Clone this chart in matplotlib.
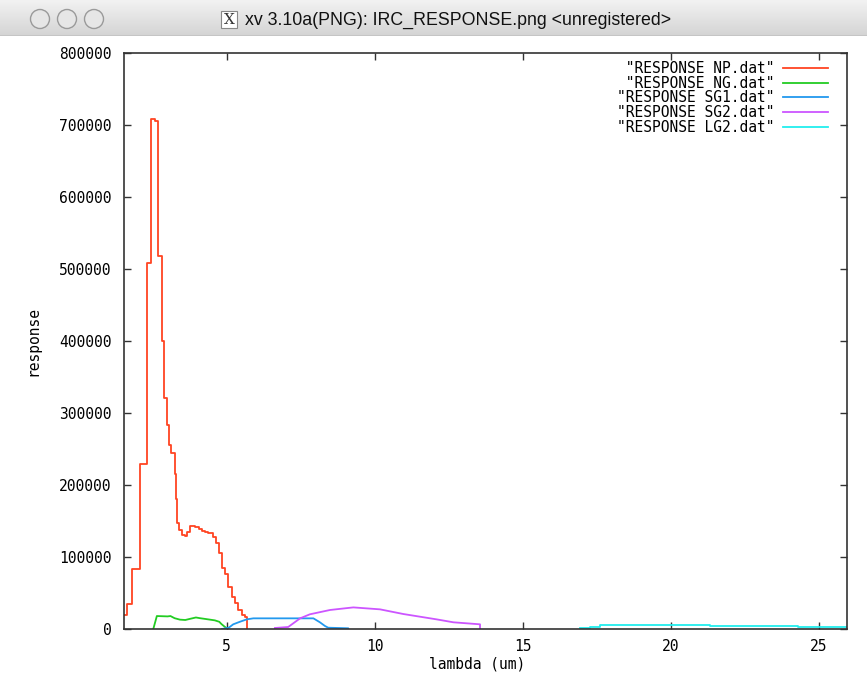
import matplotlib
matplotlib.use("Agg")
import matplotlib.pyplot as plt
import numpy as np
from matplotlib.patches import Circle, Rectangle

# values
np_x = [1.53, 1.57, 1.62, 1.80, 2.07, 2.30, 2.43, 2.57, 2.68, 2.81, 2.88, 2.98,
        3.04, 3.13, 3.24, 3.29, 3.33, 3.40, 3.48, 3.59, 3.66, 3.76, 3.93, 4.05,
        4.16, 4.28, 4.38, 4.55, 4.63, 4.74, 4.85, 4.94, 5.05, 5.17, 5.28, 5.39,
        5.51, 5.62, 5.70]
np_y = [19000, 19000, 34700, 83000, 229000, 508000, 708000, 706000, 518000,
        400000, 321000, 283000, 255000, 244000, 215000, 180000, 147000, 137000,
        131000, 129000, 135000, 143000, 142000, 139000, 136500, 135000, 134000,
        128000, 119000, 105000, 84500, 77000, 58800, 44900, 36000, 26400, 19400,
        17000, 0]

ng_x = [2.52, 2.64, 3.00, 3.10, 3.24, 3.42, 3.60, 3.75, 3.96, 4.10, 4.27, 4.60,
        4.75, 4.82, 4.93, 5.04]
ng_y = [0, 18000, 17500, 18000, 15000, 13000, 12500, 14000, 16000, 15000,
        14000, 12000, 10000, 7000, 3200, 0]

sg1_x = [4.84, 5.07, 5.22, 5.45, 5.68, 5.90, 7.93, 8.15, 8.32, 8.43, 9.11, 9.11]
sg1_y = [0, 1800, 6500, 10100, 13400, 14800, 14800, 9300, 4200, 1800, 1000, 0]

sg2_x = [6.63, 7.08, 7.48, 7.81, 8.49, 8.99, 9.28, 10.18, 10.97, 12.09, 12.66,
         13.56, 13.56]
sg2_y = [1400, 2800, 14800, 20400, 26400, 28700, 30000, 27300, 20800, 13400,
         9300, 6500, 0]

lg2_x = [16.94, 17.27, 17.61, 21.33, 24.31, 25.96]
lg2_y = [1000, 3200, 6000, 4200, 2400, 2400]

x_ticks = [5, 10, 15, 20, 25]
y_ticks = [0, 100000, 200000, 300000, 400000, 500000, 600000, 700000, 800000]

labels = [' "RESPONSE NP.dat"', ' "RESPONSE NG.dat"', '"RESPONSE SG1.dat"',
          '"RESPONSE SG2.dat"', '"RESPONSE LG2.dat"']
colors = ["#ff4422", "#22cc22", "#2299ee", "#cc55ff", "#22eeee"]

mono = "DejaVu Sans Mono"
fs = 10.5


def main():
    fig = plt.figure(figsize=(8.67, 6.74), dpi=100)
    fig.patch.set_facecolor("white")

    # window title bar
    bar = fig.add_axes([0, 1 - 36 / 674, 1, 36 / 674])
    grad = np.linspace(0, 1, 50).reshape(-1, 1)
    bar.imshow(grad, cmap=matplotlib.colors.LinearSegmentedColormap.from_list(
        "tb", ["#f2f2f2", "#d4d4d4"]), aspect="auto", extent=[0, 867, 36, 0])
    bar.set_xlim(0, 867)
    bar.set_ylim(36, 0)
    bar.axis("off")
    bar.plot([0, 867], [35.5, 35.5], color="#8a8a8a", lw=1)
    for cx in [40, 67, 94]:
        bar.add_patch(Circle((cx, 19), 9.5, facecolor="#e6e6e6",
                             edgecolor="#9a9a9a", lw=1))
    bar.add_patch(Rectangle((221, 11), 16, 17, facecolor="white",
                            edgecolor="#888888", lw=0.8))
    bar.text(229, 20, "X", family="DejaVu Serif", fontsize=11, ha="center",
             va="center", color="#333333")
    bar.text(245, 20, "xv 3.10a(PNG): IRC_RESPONSE.png <unregistered>",
             family="Liberation Sans", fontsize=12.8, ha="left", va="center",
             color="#111111")

    ax = fig.add_axes([124 / 867, 45 / 674, 723 / 867, 576 / 674])
    ax.plot(np_x, np_y, drawstyle="steps-post", color=colors[0], lw=1.3,
            label=labels[0])
    ax.plot(ng_x, ng_y, color=colors[1], lw=1.3, label=labels[1])
    ax.plot(sg1_x, sg1_y, color=colors[2], lw=1.3, label=labels[2])
    ax.plot(sg2_x, sg2_y, color=colors[3], lw=1.3, label=labels[3])
    ax.plot(lg2_x, lg2_y, drawstyle="steps-post", color=colors[4], lw=1.3,
            label=labels[4])

    ax.set_xlim(1.53, 25.96)
    ax.set_ylim(0, 800000)
    ax.set_xticks(x_ticks)
    ax.set_xticklabels([str(t) for t in x_ticks], family=mono, fontsize=fs)
    ax.set_yticks(y_ticks)
    ax.set_yticklabels([str(t) for t in y_ticks], family=mono, fontsize=fs)
    ax.tick_params(direction="in", length=5, width=1, top=True, right=True,
                   color="#333333")
    ax.tick_params(axis="y", pad=9)
    ax.tick_params(axis="x", pad=7)
    for s in ax.spines.values():
        s.set_color("#333333")
        s.set_linewidth(1.2)

    ax.set_xlabel("lambda (um)", family=mono, fontsize=fs, va="center")
    ax.xaxis.set_label_coords(0.488, -0.061)
    ax.set_ylabel("response", family=mono, fontsize=fs, va="center")
    ax.yaxis.set_label_coords(-0.126, 0.5)

    ax.legend(loc="upper right", bbox_to_anchor=(1 - 19 / 723, 1 - 8 / 576),
              frameon=False, markerfirst=False, handlelength=3.1,
              handletextpad=0.6, labelspacing=-0.02, borderpad=0,
              borderaxespad=0, prop={"family": mono, "size": fs})

    fig.savefig("out.png", dpi=100)


if __name__ == "__main__":
    main()
